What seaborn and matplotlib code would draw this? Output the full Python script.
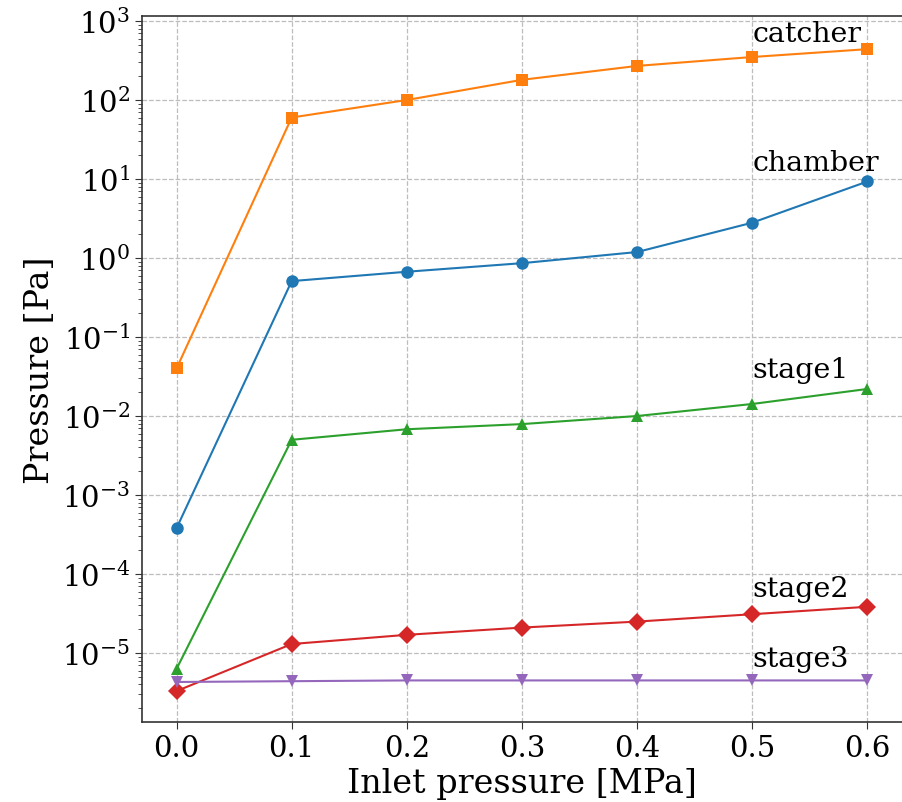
import matplotlib
matplotlib.use("Agg")
import matplotlib.pyplot as plt
import seaborn as sns
import pandas as pd
import numpy as np

inlet = [0.0, 0.1, 0.2, 0.3, 0.4, 0.5, 0.6]
chamber = [3.8e-4, 0.51, 0.67, 0.86, 1.19, 2.8, 9.3]
catcher = [0.04, 60, 100, 180, 270, 350, 440]
stage1 = [6.3e-6, 5.0e-3, 6.8e-3, 7.9e-3, 1.0e-2, 1.42e-2, 2.2e-2]
stage2 = [3.3e-6, 1.3e-5, 1.7e-5, 2.1e-5, 2.5e-5, 3.1e-5, 3.85e-5]
stage3 = [4.3e-6, 4.4e-6, 4.5e-6, 4.5e-6, 4.5e-6, 4.5e-6, 4.5e-6]

series_names = ["chamber", "catcher", "stage1", "stage2", "stage3"]
series_values = [chamber, catcher, stage1, stage2, stage3]
label_y = [13.0, 560.0, 3.1e-2, 5.3e-5, 6.8e-6]
label_x = 0.5

rows = []
for name, vals in zip(series_names, series_values):
    for x, v in zip(inlet, vals):
        rows.append({"Inlet": x, "Pressure": v, "series": name})
df = pd.DataFrame(rows)

sns.set_style("ticks")
plt.rcParams["font.family"] = ["DejaVu Serif"]
plt.rcParams["mathtext.fontset"] = "dejavuserif"
plt.rcParams["text.color"] = "black"
plt.rcParams["axes.labelcolor"] = "black"
plt.rcParams["xtick.color"] = "black"
plt.rcParams["ytick.color"] = "black"

fig = plt.figure(figsize=(9.02, 8.03), dpi=100)
ax = fig.add_axes([142 / 902, 1 - 723 / 803, 1 - 142 / 902, (723 - 17) / 803])

palette = {"chamber": "#1f77b4", "catcher": "#ff7f0e", "stage1": "#2ca02c",
           "stage2": "#d62728", "stage3": "#9467bd"}
markers = {"chamber": "o", "catcher": "s", "stage1": "^", "stage2": "D", "stage3": "v"}

sns.lineplot(data=df, x="Inlet", y="Pressure", hue="series", style="series",
             palette=palette, markers=markers, dashes=False, markersize=9,
             markeredgewidth=0, linewidth=1.5, ax=ax, legend=False)

ax.set_yscale("log")
ax.set_xlim(-0.03, 0.63)
ax.set_ylim(10 ** -5.873, 10 ** 3.063)
ax.set_xticks(inlet)
ax.set_xticklabels([f"{x:.1f}" for x in inlet])
ax.set_yticks([10.0 ** k for k in range(-5, 4)])

ax.grid(True, which="major", linestyle="--", color="#bdbdbd", linewidth=0.9)
ax.tick_params(axis="both", which="major", labelsize=21, length=5, color="#333333",
               labelcolor="black")
ax.tick_params(axis="y", which="minor", length=3, color="#333333")
for s in ["left", "top", "bottom"]:
    ax.spines[s].set_color("#333333")
    ax.spines[s].set_linewidth(1.2)
ax.spines["right"].set_visible(False)

ax.set_xlabel("Inlet pressure [MPa]", fontsize=24, color="black")
ax.set_ylabel("Pressure [Pa]", fontsize=24, color="black")

for name, ly in zip(series_names, label_y):
    ax.text(label_x, ly, name, fontsize=20.5, ha="left", va="baseline", color="black")

fig.savefig("out.png", dpi=100)
